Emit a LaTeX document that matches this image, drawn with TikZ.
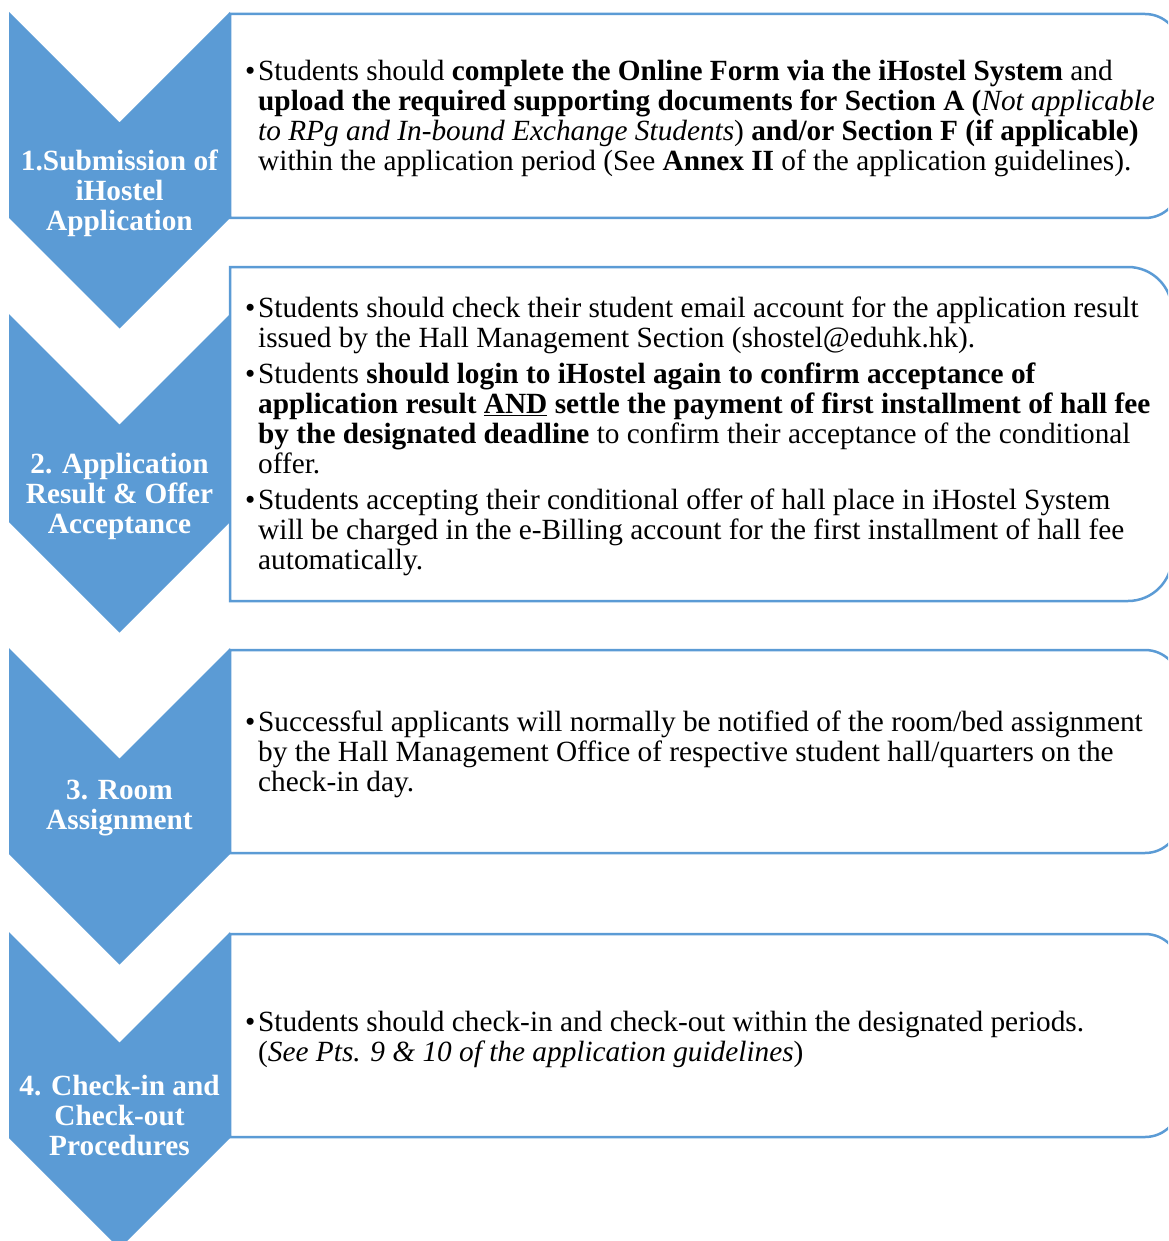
\documentclass[tikz,border=0pt]{standalone}
\usepackage{fontspec}
\setmainfont{Liberation Serif}
\usepackage{tikz}
\usetikzlibrary{positioning}
\definecolor{chevblue}{RGB}{91, 155, 213}
\tikzstyle{chev} = [fill=chevblue, draw=none]
\tikzstyle{steplabel} = [text=white, align=center, font=\bfseries\fontsize{29.3}{30}\selectfont, inner sep=0pt]
\tikzstyle{descbox} = [draw=chevblue, line width=2.5pt, fill=white]
\tikzstyle{desc} = [anchor=west, align=left, text=black, font=\fontsize{29.3}{30}\selectfont, inner sep=0pt]
\newcommand{\bul}{\makebox[13pt][l]{\textbullet}}
\newcommand{\ind}{\hspace*{13pt}}

\begin{document}
\begin{tikzpicture}[x=1pt, y=-1pt]

\clip (0,0) rectangle (1168,1241);

% boxes =============================
\draw[descbox] (230,218) -- (230,14) [rounded corners=35pt] -- (1180,14) -- (1180,218) [sharp corners] -- cycle;
\draw[descbox] (230,601) -- (230,267) [rounded corners=44pt] -- (1172,267) -- (1172,601) [sharp corners] -- cycle;
\draw[descbox] (230,853) -- (230,650) [rounded corners=35pt] -- (1180,650) -- (1180,853) [sharp corners] -- cycle;
\draw[descbox] (230,1137) -- (230,934) [rounded corners=35pt] -- (1180,934) -- (1180,1137) [sharp corners] -- cycle;

% chevrons
\fill[chev] (9,12) -- (119.5,122.5) -- (230,12) -- (230,218) -- (119.5,328.5) -- (9,218) -- cycle;
\fill[chev] (9,314) -- (119.5,424.5) -- (230,314) -- (230,522) -- (119.5,632.5) -- (9,522) -- cycle;
\fill[chev] (9,648) -- (119.5,758.5) -- (230,648) -- (230,854) -- (119.5,964.5) -- (9,854) -- cycle;
\fill[chev] (9,932) -- (119.5,1042.5) -- (230,932) -- (230,1138) -- (119.5,1248.5) -- (9,1138) -- cycle;

% step labels
\node[steplabel] (step1) at (119.5,193.5) {1.Submission of\\iHostel\\Application};
\node[steplabel] (step2) at (119.5,496.5) {2. Application\\Result \& Offer\\Acceptance};
\node[steplabel] (step3) at (119.5,808.5) {3. Room\\Assignment};
\node[steplabel] (step4) at (119.5,1115.5) {4. Check-in and\\Check-out\\Procedures};

% descriptions
\node[desc] (desc1) at (245,118.5) {\bul Students should \textbf{complete the Online Form via the iHostel System} and\\
\ind\textbf{upload the required supporting documents for Section A (}\textit{Not applicable}\\
\ind\textit{to RPg and In-bound Exchange Students}) \textbf{and/or Section F (if applicable)}\\
\ind within the application period (See \textbf{Annex II} of the application guidelines).};

\node[desc] (desc2) at (245,436.5) {\bul Students should check their student email account for the application result\\
\ind issued by the Hall Management Section (shostel@eduhk.hk).\\[6pt]
\bul Students \textbf{should login to iHostel again to confirm acceptance of}\\
\ind\textbf{application result \underline{AND} settle the payment of first installment of hall fee}\\
\ind\textbf{by the designated deadline} to confirm their acceptance of the conditional\\
\ind offer.\\[6pt]
\bul Students accepting their conditional offer of hall place in iHostel System\\
\ind will be charged in the e-Billing account for the first installment of hall fee\\
\ind automatically.};

\node[desc] (desc3) at (245,754) {\bul Successful applicants will normally be notified of the room/bed assignment\\
\ind by the Hall Management Office of respective student hall/quarters on the\\
\ind check-in day.};

\node[desc] (desc4) at (245,1039) {\bul Students should check-in and check-out within the designated periods.\\
\ind(\textit{See Pts. 9 \& 10 of the application guidelines})};

\end{tikzpicture}
\end{document}
